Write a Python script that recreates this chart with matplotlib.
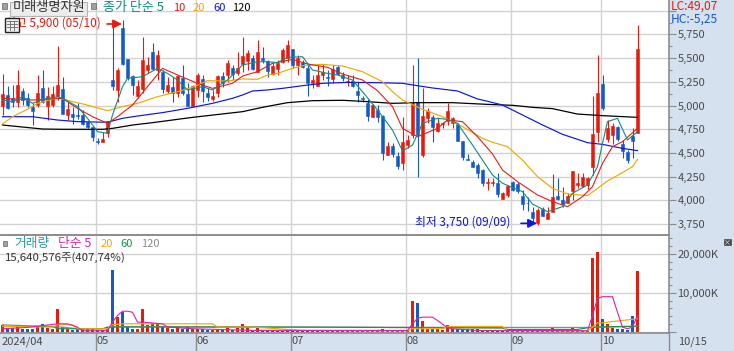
# -*- coding: utf-8 -*-
# candle chart with moving averages and volume panel

import matplotlib
matplotlib.use('Agg')
import matplotlib.pyplot as plt
from matplotlib.patches import Rectangle
from matplotlib.ticker import FuncFormatter, MultipleLocator

plt.rcParams['font.family'] = ['Noto Sans CJK KR', 'DejaVu Sans']

# daily prices
opens = [4995,5111,5076,5041,5157,5076,4981,5005,5181,4995,5005,5100,5171,4900,4910,4896,4900,4830,4770,4622,4619,4714,5269,5164,5814,5487,5311,5100,5171,5375,5568,5375,5357,5157,5199,5136,5287,5121,4995,5164,5276,5136,5065,5136,5311,5322,5399,5346,5438,
         5473,5498,5357,5498,5473,5332,5385,5455,5498,5593,5427,5462,5392,5234,5209,5322,5304,5280,5403,5318,5248,5258,5157,5079,5030,4882,4953,4893,4481,4573,4467,4397,4583,4689,5034,4481,4865,4882,4731,4805,4837,4819,4805,4626,4436,4401,4373,4320,4179,
         4186,4179,4017,4056,4193,4169,4049,3975,3880,3764,3905,3807,3880,4046,4003,3975,4102,4158,4151,4162,4355,4724,5223,4643,4689,4770,4594,4510,4679,4714]
highs = [5332,5206,5216,5375,5181,5128,5023,5322,5375,5199,5206,5628,5304,5041,4988,5023,4953,4840,4777,4654,4724,4840,5849,5392,5902,5487,5322,5269,5726,5515,5656,5586,5375,5304,5297,5322,5427,5234,5216,5346,5322,5181,5164,5322,5357,5480,5427,5568,5719,
         5586,5533,5691,5614,5480,5462,5480,5603,5691,5593,5533,5480,5445,5322,5427,5438,5375,5427,5427,5357,5322,5322,5251,5100,5065,5016,5005,4900,4619,4601,4513,4882,4689,5427,5505,5181,4970,4900,4865,4830,5030,4882,4812,4629,4489,4425,4397,4327,4232,
         4232,4285,4091,4162,4204,4190,4109,4039,3933,3915,3933,3933,4278,4232,4144,4081,4309,4292,4292,4250,5100,5533,5322,4847,4819,4784,4636,4531,4766,5849]
lows = [4900,4960,4988,4988,5005,4988,4795,4988,5023,4847,4988,5058,4910,4847,4805,4854,4795,4759,4629,4594,4619,4664,5164,5041,5427,5269,5111,5076,5128,5339,5375,5269,5128,5128,5041,5093,5111,4995,4995,5093,5041,5051,5051,5093,5199,5252,5269,5322,5357,
        5375,5375,5357,5445,5297,5322,5322,5445,5462,5392,5322,5392,5100,5181,5209,5269,5209,5234,5322,5262,5209,5199,5041,5041,4840,4875,4830,4425,4478,4453,4327,4320,4548,4654,4242,4453,4812,4619,4724,4759,4794,4759,4629,4425,4425,4348,4235,4155,4109,
        4155,4039,4014,4039,4102,4081,3898,3891,3757,3740,3835,3803,3873,4003,3933,3968,4003,4126,4144,4119,4267,4619,4953,4619,4594,4629,4443,4390,4443,4714]
closes = [5118,4970,5041,5216,5058,5005,4946,5128,5041,5100,5121,5216,4910,4960,4882,4889,4805,4770,4671,4615,4650,4840,5206,5375,5438,5287,5216,5206,5480,5427,5382,5533,5174,5216,5136,5311,5128,4995,5206,5322,5157,5093,5100,5311,5241,5452,5332,5392,5522,
          5557,5382,5568,5480,5368,5417,5452,5586,5638,5427,5498,5410,5241,5269,5322,5357,5290,5385,5332,5294,5258,5209,5107,5069,4889,5002,4875,4503,4573,4489,4362,4615,4636,5030,4689,4889,4946,4777,4819,4812,4946,4865,4629,4460,4429,4355,4292,4179,4190,
          4197,4067,4074,4151,4109,4102,3961,3968,3810,3898,3835,3870,4031,4014,3961,4046,4309,4186,4250,4239,4700,5128,4977,4763,4784,4643,4524,4425,4629,5596]

ma5_idx = [0,2,4,6,8,11,12,15,17,19,21,22,24,25,28,31,33,35,37,40,42,45,48,
           51,53,55,57,60,62,65,67,70,72,75,78,80,82,84,87,89,91,94,96,98,
           100,102,104,106,109,112,114,117,119,120,121,123,125,127]
ma5 = [5058,5041,5093,5023,5065,5093,5076,4988,4865,4724,4707,4900,5199,5287,5304,5392,5339,5269,5164,5199,5164,5269,5427,
       5462,5462,5452,5508,5515,5375,5339,5322,5269,5146,4953,4742,4520,4583,4812,4865,4854,4812,4583,4425,4267,
       4180,4134,4091,3961,3880,3933,4074,4162,4355,4601,4830,4865,4636,4724]
ma10_idx = [0,6,12,15,18,21,23,26,29,32,35,39,42,46,48,
            51,54,58,61,65,68,72,75,78,80,83,87,89,92,95,98,
            100,103,107,110,113,116,118,120,122,124,127]
ma10 = [5076,5058,5076,4970,4882,4812,4882,5005,5199,5392,5322,5234,5181,5234,5311,
        5357,5445,5487,5438,5403,5332,5269,5157,4988,4759,4671,4759,4847,4830,4671,4489,
        4320,4197,4056,3986,3933,4039,4144,4390,4566,4619,4759]
ma20_idx = [0,2,5,7,11,14,17,21,24,27,31,35,38,41,45,48,
            51,53,55,58,60,64,68,72,76,78,80,84,88,92,96,98,
            101,104,107,110,113,117,119,121,124,126,127]
ma20 = [4805,4882,4960,5023,5083,5041,5005,4946,4988,5023,5093,5146,5192,5262,5259,5280,
        5276,5322,5339,5392,5420,5434,5417,5357,5251,5146,5058,4960,4882,4777,4654,4612,
        4566,4425,4250,4126,4067,4049,4126,4204,4292,4355,4432]
ma60_idx = [0,3,6,11,15,21,24,27,32,37,42,46,48,
            50,53,56,60,64,69,75,80,83,86,91,95,97,
            100,104,108,112,117,120,124,127]
ma60 = [4882,4882,4882,4847,4830,4823,4865,4889,4925,4970,5023,5076,5111,
        5153,5164,5181,5209,5234,5244,5241,5234,5209,5185,5153,5069,5045,
        5005,4900,4795,4696,4608,4590,4548,4524]
ma120_idx = [0,8,12,20,22,26,30,33,38,48,52,57,62,68,72,78,83,90,97,102,106,110,115,120,127]
ma120 = [4794,4752,4749,4749,4759,4794,4819,4840,4875,4935,4981,5030,5051,5055,5044,5023,5030,5030,5012,5002,4981,4967,4910,4893,4875]

# volume in thousands of shares
volumes = [1610,930,930,1610,760,590,760,1355,1860,930,590,5760,1185,760,420,590,760,590,760,340,340,1185,15920,3730,5170,1355,760,760,5760,1610,2200,2030,1185,930,760,1185,590,1185,760,760,760,510,510,510,510,1355,510,1015,1950,
           1185,510,1185,510,400,340,300,420,340,300,340,510,300,340,300,420,300,340,300,420,300,340,300,300,300,340,300,760,340,300,340,300,420,7790,7280,2710,760,760,760,510,1690,760,760,760,760,760,760,340,340,
           300,300,250,300,250,300,300,250,300,340,340,300,930,300,300,340,930,300,250,300,18970,20410,3220,1950,930,680,680,510,3980,15640]
vol_ma5_idx = [0,5,11,13,15,16,21,22,23,24,25,26,27,28,32,33,38,50,70,81,82,83,84,86,87,89,90,95,117,118,119,120,122,123,124,125,126,127]
vol_ma5 = [760,1100,2030,2030,1185,250,250,2455,4150,5250,5250,5000,2455,2455,2030,1185,760,340,340,340,2030,3470,3730,3730,2880,1015,760,340,250,4150,8555,8980,8980,5000,1185,760,1185,4150]
vol_ma20_idx = [0,10,11,14,15,21,22,24,42,43,50,60,73,81,82,84,88,89,100,101,117,118,119,120,122,127]
vol_ma20 = [1355,1185,1780,1780,760,760,1780,2030,2030,1185,1185,340,250,250,760,760,760,1355,1355,250,250,1185,2290,2290,2625,3300]
vol_ma60_idx = [0,10,11,20,21,22,60,100,101,115,118,127]
vol_ma60 = [1355,1355,760,760,1185,1185,1185,930,590,590,1185,1440]
vol_ma120_idx = [0,12,15,21,22,60,100,117,118,127]
vol_ma120 = [1780,1185,760,760,1355,1185,1100,1100,1100,1355]

# first trading day of each month
month_first = [19, 39, 58, 81, 102, 120]
month_labels = ['05', '06', '07', '08', '09', '10']

# colours
red = '#e81a0c'
blue = '#1459c8'
panel = '#d6e1f0'
gridc = '#d2d2d2'
edge = '#8c8c8c'
textc = '#4a4a4a'
teal = '#0f8c80'

days = list(range(len(closes)))
colors = [red if c >= o else blue for o, c in zip(opens, closes)]
vol_colors = colors
month_pos = [m - 0.4 for m in month_first]

fig = plt.figure(figsize=(7.34, 3.51), dpi=100, facecolor=panel)
ax = fig.add_axes([0, (351 - 235) / 351, 669 / 734, 235 / 351])
ax_v = fig.add_axes([0, (351 - 333) / 351, 669 / 734, 97 / 351], sharex=ax)

# price panel
ax.set_xlim(-0.5, 133.3)
ax.set_ylim(3634, 6113)
ax.yaxis.set_major_locator(MultipleLocator(250))
ax.yaxis.set_minor_locator(MultipleLocator(125))
ax.grid(True, axis='y', color=gridc, lw=1.0, zorder=0)
for m in month_pos:
    ax.axvline(m, color=gridc, lw=1.0, zorder=0)
    ax_v.axvline(m, color=gridc, lw=1.0, zorder=0)

ax.vlines(days, lows, highs, colors=colors, lw=0.8, zorder=2)
ax.bar(days, [abs(c - o) for o, c in zip(opens, closes)],
       bottom=[min(o, c) for o, c in zip(opens, closes)],
       width=0.7, color=colors, edgecolor=colors, lw=0.4, zorder=3)

ax.plot(ma120_idx, ma120, color='black', lw=0.9, zorder=4)
ax.plot(ma60_idx, ma60, color='#0a14e6', lw=0.85, zorder=4)
ax.plot(ma20_idx, ma20, color='#f2a900', lw=0.85, zorder=4)
ax.plot(ma10_idx, ma10, color='#ee1c10', lw=0.8, zorder=5)
ax.plot(ma5_idx, ma5, color=teal, lw=0.8, zorder=5)

ax.yaxis.tick_right()
ax.yaxis.set_major_formatter(FuncFormatter(
    lambda v, p: '' if v < 3750 or v > 5750 else format(int(v), ',')))
ax.tick_params(axis='y', which='major', length=5, width=0.8, color=edge,
               labelcolor=textc, labelsize=8, pad=1)
ax.tick_params(axis='y', which='minor', length=2.5, width=0.8, color=edge)
ax.tick_params(axis='x', length=0, labelbottom=False)
for s in ['top', 'left']:
    ax.spines[s].set_visible(False)
ax.spines['right'].set_color(edge)
ax.spines['right'].set_linewidth(1.2)
ax.spines['bottom'].set_color(edge)
ax.spines['bottom'].set_linewidth(1.4)

ax.annotate('', xy=(23.9, 5860), xytext=(20.9, 5860),
            arrowprops=dict(arrowstyle='-|>', color=red, lw=1.2, mutation_scale=13, shrinkA=0, shrinkB=0))
ax.annotate('', xy=(106.9, 3757), xytext=(103.7, 3757),
            arrowprops=dict(arrowstyle='-|>', color='#0a14e6', lw=1.2, mutation_scale=13, shrinkA=0, shrinkB=0))

# volume panel
ax_v.set_ylim(-330, 24540)
ax_v.yaxis.set_major_locator(MultipleLocator(10000))
ax_v.yaxis.set_minor_locator(MultipleLocator(2000))
ax_v.grid(True, axis='y', color=gridc, lw=1.0, zorder=0)
ax_v.bar(days, volumes, width=0.7, color=vol_colors, zorder=2)
ax_v.plot(vol_ma120_idx, vol_ma120, color='#8a8a8a', lw=0.85, zorder=3)
ax_v.plot(vol_ma60_idx, vol_ma60, color='#17954a', lw=0.85, zorder=3)
ax_v.plot(vol_ma20_idx, vol_ma20, color='#f2a900', lw=0.85, zorder=4)
ax_v.plot(vol_ma5_idx, vol_ma5, color='#e020b0', lw=0.8, zorder=5)

ax_v.yaxis.tick_right()
ax_v.yaxis.set_major_formatter(FuncFormatter(
    lambda v, p: '' if v <= 0 else format(int(v), ',') + 'K'))
ax_v.tick_params(axis='y', which='major', length=5, width=0.8, color=edge,
                 labelcolor=textc, labelsize=8, pad=1)
ax_v.tick_params(axis='y', which='minor', length=2.5, width=0.8, color=edge)
ax_v.set_xticks(month_pos)
ax_v.set_xticklabels([])
ax_v.tick_params(axis='x', length=13, width=1.0, color=edge)
for s in ['top', 'left']:
    ax_v.spines[s].set_visible(False)
ax_v.spines['right'].set_color(edge)
ax_v.spines['right'].set_linewidth(1.2)
ax_v.spines['bottom'].set_color(edge)
ax_v.spines['bottom'].set_linewidth(1.2)

for m, lab in zip(month_pos, month_labels):
    ax_v.annotate(lab, xy=(m, 0), xycoords=('data', 'axes fraction'), xytext=(1, -2),
                  textcoords='offset points', ha='left', va='top', fontsize=8, color=textc)

# overlay in pixels for legends and small widgets
ov = fig.add_axes([0, 0, 1, 1])
ov.set_xlim(0, 734)
ov.set_ylim(351, 0)
ov.axis('off')


def put(x, y, s, color=textc, size=8):
    ov.text(x, y, s, color=color, fontsize=size, ha='left', va='center')


# title button and price legend
ov.add_patch(Rectangle((2, 3), 5, 6, fc='#a0a0a0', ec='#777777', lw=0.6))
ov.add_patch(Rectangle((10, 1.5), 77, 14, fc='#ececec', ec='#b5b5b5', lw=0.8))
put(13, 8, '미래생명자원', '#333333', 9.5)
ov.add_patch(Rectangle((91, 3), 5, 6, fc='#a0a0a0', ec='#777777', lw=0.6))
put(103, 8, '종가 단순 5', teal, 9.4)
put(173, 8, '10', red)
put(193, 8, '20', '#f2a900')
put(213, 8, '60', '#0a14e6')
put(232, 8, '120', 'black')
put(5, 23, '최고 5,900 (05/10)', red, 8.5)
put(415, 222, '최저 3,750 (09/09)', '#0a14e6', 8.5)

# table icon over the label
ov.add_patch(Rectangle((5, 18), 14, 14, fc='#f0f0f0', ec='#222222', lw=1.0, zorder=5))
for gx in [9.5, 14]:
    ov.plot([gx, gx], [21, 30], color='#777777', lw=0.7, zorder=6)
for gy in [21, 24, 27]:
    ov.plot([7, 17], [gy, gy], color='#777777', lw=0.7, zorder=6)

put(671, 6, 'LC:49,07', red, 8.6)
put(671, 19, 'HC:-5,25', blue, 8.6)

# volume legend
ov.add_patch(Rectangle((3, 241), 4, 5, fc='#a0a0a0', ec='#777777', lw=0.6))
put(14, 244, '거래량', '#2a9a9a', 9.2)
put(58, 244, '단순 5', '#e020b0', 9.2)
put(101, 244, '20', '#f2a900')
put(120, 244, '60', '#17954a')
put(141, 244, '120', '#8a8a8a')
put(5, 258, '15,640,576주(407,74%)', '#333333', 8.2)

# date strip labels
put(2, 342, '2024/04')
put(678, 342, '10/15')
ov.plot([669, 669], [333, 351], color=edge, lw=1.0)

# little close icon
ov.add_patch(Rectangle((724, 239), 7, 6, fc='#4a4a4a', ec='#4a4a4a', lw=0.5))
ov.text(727.5, 242, '×', color='white', fontsize=5, ha='center', va='center')

fig.savefig('out.png', dpi=100, facecolor=panel)
